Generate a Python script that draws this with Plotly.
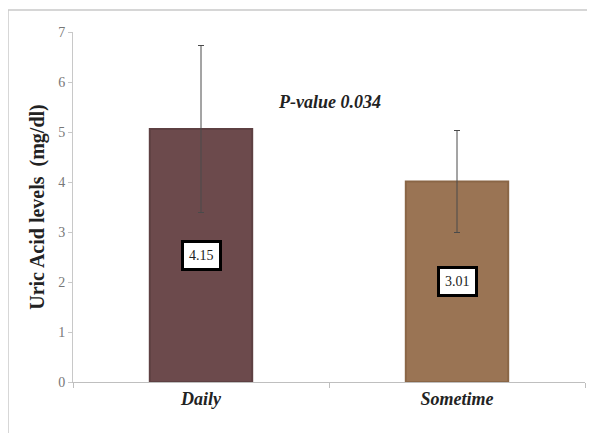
import plotly.graph_objects as go

categories = ["Daily", "Sometime"]
means = [5.06, 4.01]
errors = [1.67, 1.02]
box_labels = ["4.15", "3.01"]
bar_colors = ["#6c4a4c", "#9a7454"]
edge_colors = ["#5e4042", "#8a6646"]
p_text = "P-value 0.034"
y_title = "Uric Acid levels  (mg/dl)"

fig = go.Figure()
fig.add_trace(go.Bar(
    x=categories, y=means, width=0.4,
    marker=dict(color=bar_colors, line=dict(color=edge_colors, width=2)),
    error_y=dict(type="data", array=errors, visible=True, color="#4a4a4a",
                 thickness=1, width=3),
    showlegend=False, hoverinfo="skip",
))

for c, m, lab in zip(categories, means, box_labels):
    fig.add_annotation(x=c, y=m / 2, text=lab, showarrow=False,
                       font=dict(family="Liberation Serif", size=14, color="#222"),
                       bgcolor="white", bordercolor="black", borderwidth=3,
                       borderpad=5)

fig.add_annotation(x=0.5, y=5.6, xref="x", yref="y", text="<b><i>" + p_text + "</i></b>",
                   showarrow=False,
                   font=dict(family="Liberation Serif", size=18, color="#222"))

# outer frame
fig.add_shape(type="line", xref="paper", yref="paper", x0=-0.127, x1=1.02, y0=1.063, y1=1.063,
              line=dict(color="#c8c8c8", width=1.5))
fig.add_shape(type="line", xref="paper", yref="paper", x0=-0.127, x1=-0.127, y0=1.063, y1=-0.2,
              line=dict(color="#c8c8c8", width=1.5))

fig.update_layout(
    width=587, height=425,
    margin=dict(l=65, r=10, t=24, b=51),
    plot_bgcolor="white", paper_bgcolor="white",
    xaxis=dict(
        showline=True, linecolor="#bfbfbf", linewidth=1,
        ticks="outside", tickson="boundaries", ticklen=5, tickcolor="#bfbfbf",
        tickfont=dict(family="Liberation Serif", size=18, color="#222"),
        tickvals=categories,
        ticktext=["<b><i>" + c + "</i></b>" for c in categories],
        showgrid=False,
    ),
    yaxis=dict(
        range=[0, 7], dtick=1,
        showline=True, linecolor="#c8c8c8", linewidth=1,
        ticks="outside", ticklen=4, tickcolor="#c8c8c8",
        tickfont=dict(family="Liberation Serif", size=14, color="#777"),
        showgrid=False, zeroline=False,
        title=dict(text="<b>" + y_title + "</b>", standoff=8,
                   font=dict(family="Liberation Serif", size=20, color="#222")),
    ),
)

fig.write_html("out.html")
